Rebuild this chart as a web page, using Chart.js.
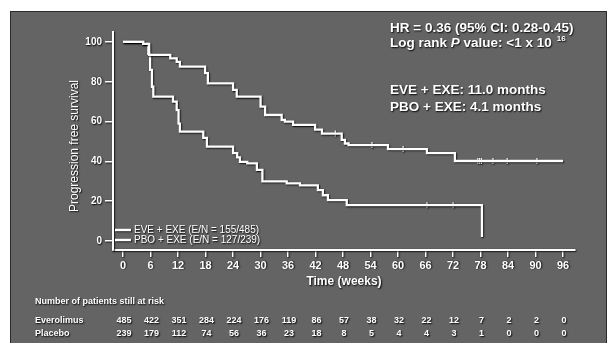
<!DOCTYPE html>
<html><head><meta charset="utf-8">
<script src="https://cdn.jsdelivr.net/npm/chart.js@4.4.1/dist/chart.umd.min.js"></script>
<style>html,body{margin:0;padding:0;background:#fff;}canvas{display:block;}</style>
</head><body>
<canvas id="c" width="614" height="343"></canvas>
<script>
// ---- data ----
const xTicks = [0, 6, 12, 18, 24, 30, 36, 42, 48, 54, 60, 66, 72, 78, 84, 90, 96];
const yTicks = [0, 20, 40, 60, 80, 100];

const eveWeeks    = [0, 4.4, 5.7, 10.3, 11.7, 12.4, 17.9, 18.5, 24.0, 24.8, 30.0, 31.0, 34.6, 35.3, 37.1, 41.9, 43.4, 47.7, 48.4, 49.2, 57.8, 66.3, 72.4, 96];
const eveSurvival = [100, 99, 93.5, 91.8, 90, 87.6, 84.3, 79.2, 75.9, 72.5, 67.5, 63.3, 60.8, 60, 58.3, 56, 54, 50.8, 49, 48.2, 46.2, 44.2, 40.2, 40.2];

const pboWeeks    = [0, 4.4, 5.5, 5.9, 6.3, 6.6, 10.9, 11.7, 12.1, 12.4, 17.5, 18.3, 24.0, 24.9, 25.5, 27.1, 29.2, 30.4, 35.7, 38.6, 42.5, 43.6, 44.7, 48.8, 78.3];
const pboSurvival = [100, 99, 94, 86, 77.5, 72.5, 70, 65.8, 59, 55, 51.8, 47.4, 44.2, 42, 39.8, 39, 35.7, 30, 29, 28, 25.6, 23, 20.6, 18, 2];

const eveCensorWeeks = [46.3, 54.3, 61.1, 77.4, 77.8, 78.2, 80.7, 83.8, 90.3];
const pboCensorWeeks = [66.3, 72.0];

const legendLabels = ['EVE + EXE (E/N = 155/485)', 'PBO + EXE (E/N = 127/239)'];
const yTitle = 'Progression free survival';
const xTitle = 'Time (weeks)';
const riskTitle = 'Number of patients still at risk';
const riskRowLabels = ['Everolimus', 'Placebo'];
const riskEverolimus = [485, 422, 351, 284, 224, 176, 119, 86, 57, 38, 32, 22, 12, 7, 2, 2, 0];
const riskPlacebo    = [239, 179, 112, 74, 56, 36, 23, 18, 8, 5, 4, 4, 3, 1, 0, 0, 0];
const hrText = 'HR = 0.36 (95% CI: 0.28-0.45)';
const logRankParts = ['Log rank ', 'P', ' value: <1 x 10', '16'];
const medianLines = ['EVE + EXE: 11.0 months', 'PBO + EXE: 4.1 months'];

// ---- helpers ----
function toPoints(ws, vs) { return ws.map((w, i) => ({ x: w, y: vs[i] })); }
function stepValue(ws, vs, t) { let v = vs[0]; for (let i = 0; i < ws.length; i++) if (ws[i] <= t) v = vs[i]; return v; }
function censorPoints(cw, ws, vs) { return cw.map(t => ({ x: t, y: stepValue(ws, vs, t) })); }

const FONT = '"Liberation Sans", Arial, sans-serif';
const SHADOW = 'rgba(0,0,0,0.95)';

function setShadow(ctx) {
  ctx.shadowColor = SHADOW; ctx.shadowBlur = 1.5; ctx.shadowOffsetX = 0.8; ctx.shadowOffsetY = 0.8;
}
function text(ctx, s, x, y, font, align) {
  ctx.font = font; ctx.textAlign = align || 'left'; ctx.textBaseline = 'middle';
  ctx.fillStyle = '#ffffff'; ctx.fillText(s, x, y);
}

const decor = {
  id: 'decor',
  beforeDraw(chart) {
    const ctx = chart.ctx;
    ctx.save();
    ctx.shadowColor = 'transparent';
    ctx.fillStyle = '#ffffff'; ctx.fillRect(0, 0, 614, 343);
    ctx.fillStyle = '#646464'; ctx.fillRect(10, 11, 597, 332);
    ctx.strokeStyle = '#2a2a2a'; ctx.lineWidth = 1; ctx.strokeRect(10.5, 11.5, 596, 340);
    ctx.restore();
    setShadow(ctx);
  },
  afterDraw(chart) {
    const ctx = chart.ctx, ca = chart.chartArea, xs = chart.scales.x;
    ctx.save();
    setShadow(ctx);
    // y title
    ctx.save();
    ctx.translate(75, (ca.top + ca.bottom) / 2 + 5);
    ctx.rotate(-Math.PI / 2);
    text(ctx, yTitle, 0, 0, '12px ' + FONT, 'center');
    ctx.restore();
    // x title
    text(ctx, xTitle, (ca.left + ca.right) / 2, 282, 'bold 12px ' + FONT, 'center');
    // legend
    const lx = ca.left + 2, ly = [ca.bottom - 20, ca.bottom - 10];
    legendLabels.forEach((lab, i) => {
      ctx.strokeStyle = '#fff'; ctx.lineWidth = 2.5;
      ctx.beginPath(); ctx.moveTo(lx, ly[i]); ctx.lineTo(lx + 16, ly[i]); ctx.stroke();
      text(ctx, lab, lx + 19, ly[i], '10px ' + FONT, 'left');
    });
    // annotations
    const ax = 390, AF = 'bold 13.5px ' + FONT;
    text(ctx, hrText, ax, 28, AF);
    let cx = ax;
    text(ctx, logRankParts[0], cx, 43, AF); ctx.font = AF; cx += ctx.measureText(logRankParts[0]).width;
    const AFI = 'italic ' + AF;
    text(ctx, logRankParts[1], cx, 43, AFI); ctx.font = AFI; cx += ctx.measureText(logRankParts[1]).width;
    text(ctx, logRankParts[2], cx, 43, AF); ctx.font = AF; cx += ctx.measureText(logRankParts[2]).width;
    text(ctx, logRankParts[3], cx + 5, 39, 'bold 8px ' + FONT);
    text(ctx, medianLines[0], ax, 90, AF);
    text(ctx, medianLines[1], ax, 107, AF);
    // risk table
    text(ctx, riskTitle, 35, 302, 'bold 9px ' + FONT);
    text(ctx, riskRowLabels[0], 35, 321, 'bold 9px ' + FONT);
    text(ctx, riskRowLabels[1], 35, 334, 'bold 9px ' + FONT);
    xTicks.forEach((t, i) => {
      const px = xs.getPixelForValue(t) + 1;
      text(ctx, String(riskEverolimus[i]), px, 321, 'bold 9px ' + FONT, 'center');
      text(ctx, String(riskPlacebo[i]), px, 334, 'bold 9px ' + FONT, 'center');
    });
    ctx.restore();
  }
};

const lineDs = (label, ws, vs) => ({
  label, data: toPoints(ws, vs), stepped: 'before',
  borderColor: '#ffffff', borderWidth: 2.3, pointRadius: 0, fill: false, tension: 0
});
const censorDs = (label, cw, ws, vs) => ({
  label, data: censorPoints(cw, ws, vs), showLine: false,
  pointStyle: 'line', rotation: 90, pointRadius: 3, borderColor: '#ffffff', borderWidth: 1.2,
  backgroundColor: '#ffffff'
});

new Chart(document.getElementById('c'), {
  type: 'line',
  data: {
    datasets: [
      lineDs(legendLabels[0], eveWeeks, eveSurvival),
      lineDs(legendLabels[1], pboWeeks, pboSurvival),
      censorDs('EVE censored', eveCensorWeeks, eveWeeks, eveSurvival),
      censorDs('PBO censored', pboCensorWeeks, pboWeeks, pboSurvival)
    ]
  },
  options: {
    responsive: false, animation: false, devicePixelRatio: 1,
    layout: { padding: { top: 32, right: 39, left: 0, bottom: 0 } },
    plugins: { legend: { display: false }, tooltip: { enabled: false } },
    scales: {
      x: {
        type: 'linear', min: -2.2, max: 98.6,
        afterBuildTicks(s) { s.ticks = xTicks.map(v => ({ value: v })); },
        afterFit(s) { s.height = 93; },
        grid: { drawOnChartArea: false, drawTicks: true, tickLength: 7, color: '#ffffff', lineWidth: 1.5 },
        border: { display: true, color: '#ffffff', width: 2 },
        ticks: { color: '#ffffff', font: { family: FONT, size: 11, weight: 'bold' }, padding: 2, maxRotation: 0, autoSkip: false }
      },
      y: {
        type: 'linear', min: -4.5, max: 105,
        afterBuildTicks(s) { s.ticks = yTicks.map(v => ({ value: v })); },
        afterFit(s) { s.width = 113; },
        grid: { drawOnChartArea: false, drawTicks: true, tickLength: 8, color: '#ffffff', lineWidth: 1.5 },
        border: { display: true, color: '#ffffff', width: 2 },
        ticks: { color: '#ffffff', font: { family: FONT, size: 10, weight: 'bold' }, padding: 3 }
      }
    }
  },
  plugins: [decor]
});
</script>
</body></html>
